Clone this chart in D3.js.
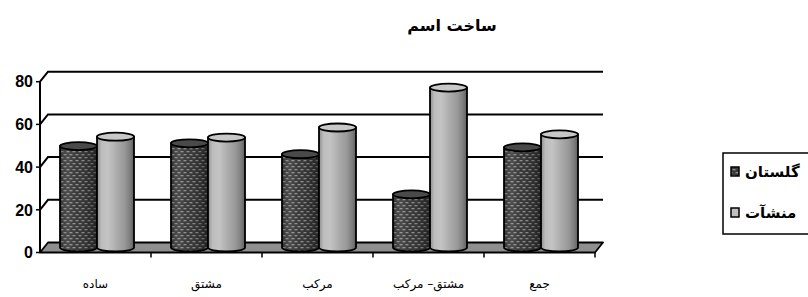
<!DOCTYPE html>
<html>
<head>
<meta charset="utf-8">
<script src="https://cdn.jsdelivr.net/npm/d3@7"></script>
<style>
  html, body { margin: 0; padding: 0; background: #fff; }
  svg { display: block; }
</style>
</head>
<body>
<svg id="chart" width="808" height="297"></svg>
<script>
const title = "ساخت اسم";
const categories = ["ساده", "مشتق", "مرکب", "مشتق– مرکب", "جمع"];
const seriesNames = ["گلستان", "منشآت"];
const golestan = [47.5, 48.8, 43.7, 24.9, 46.9];
const monshaat = [51.9, 51.5, 56.2, 74.9, 53.0];
const yTicks = [0, 20, 40, 60, 80];

const svg = d3.select("#chart");
const defs = svg.append("defs");

// depth offset for pseudo-3D
const DX = 8, DY = -10;
const x = d3.scaleBand().domain(categories).range([40, 595]).padding(0);
const y = d3.scaleLinear().domain([0, 80]).range([252.5, 81.7]);
const x1 = d3.scaleBand().domain(seriesNames).range([20, 94]).padding(0);

// patterns & gradients
const pat = defs.append("pattern").attr("id", "brick").attr("patternUnits", "userSpaceOnUse")
  .attr("width", 6).attr("height", 6);
pat.append("rect").attr("width", 6).attr("height", 6).attr("fill", "#3a3a3a");
pat.append("rect").attr("x", 0.5).attr("y", 1).attr("width", 3).attr("height", 1.3).attr("fill", "#909090");
pat.append("rect").attr("x", 3.5).attr("y", 4).attr("width", 3).attr("height", 1.3).attr("fill", "#909090");
pat.append("rect").attr("x", -2.5).attr("y", 4).attr("width", 3).attr("height", 1.3).attr("fill", "#909090");

const shade = defs.append("linearGradient").attr("id", "shadeDark").attr("x1", 0).attr("x2", 1).attr("y1", 0).attr("y2", 0);
[[0, "#000", 0.25], [0.25, "#fff", 0.08], [0.55, "#000", 0.0], [0.85, "#000", 0.25], [1, "#000", 0.45]]
  .forEach(([o, c, a]) => shade.append("stop").attr("offset", o).attr("stop-color", c).attr("stop-opacity", a));

const gl = defs.append("linearGradient").attr("id", "gradLight").attr("x1", 0).attr("x2", 1).attr("y1", 0).attr("y2", 0);
[[0, "#8e8e8e"], [0.12, "#bdbdbd"], [0.3, "#c4c4c4"], [0.55, "#aaaaaa"], [0.75, "#989898"], [0.9, "#7c7c7c"], [1, "#5e5e5e"]]
  .forEach(([o, c]) => gl.append("stop").attr("offset", o).attr("stop-color", c));

// floor
const floorG = svg.append("g");
floorG.append("path")
  .attr("d", `M${x.range()[0]},${y(0)} L${x.range()[1]},${y(0)} L${x.range()[1] + DX},${y(0) + DY} L${x.range()[0] + DX},${y(0) + DY} Z`)
  .attr("fill", "#8f8f8f").attr("stroke", "#000").attr("stroke-width", 1.8).attr("stroke-linejoin", "round");

// gridlines on back wall
const grid = svg.append("g");
yTicks.filter(t => t > 0).forEach(t => {
  grid.append("path")
    .attr("d", `M${x.range()[0]},${y(t)} L${x.range()[0] + DX},${y(t) + DY} L${x.range()[1] + DX},${y(t) + DY}`)
    .attr("fill", "none").attr("stroke", "#000").attr("stroke-width", 2);
});

// y axis
const axisG = svg.append("g");
axisG.append("line").attr("x1", 40).attr("x2", 40).attr("y1", y(80)).attr("y2", y(0))
  .attr("stroke", "#000").attr("stroke-width", 2);
yTicks.forEach(t => {
  axisG.append("line").attr("x1", 36).attr("x2", 40).attr("y1", y(t)).attr("y2", y(t))
    .attr("stroke", "#000").attr("stroke-width", 1.5);
  axisG.append("text").attr("x", 33).attr("y", y(t)).attr("dy", "0.36em")
    .attr("text-anchor", "end").attr("font-family", "Liberation Sans, Arial, sans-serif")
    .attr("font-weight", "bold").attr("font-size", 16).text(t);
});
// x ticks
const xEdges = categories.map(c => x(c)).concat([x.range()[1]]);
xEdges.slice(1).forEach(xe => {
  axisG.append("line").attr("x1", xe).attr("x2", xe).attr("y1", y(0)).attr("y2", y(0) + 5)
    .attr("stroke", "#000").attr("stroke-width", 1.5);
});

// cylinders
const RY = 4;
function cylinder(g, left, w, v, bodyFill, overlay, topFill) {
  const cx = left + w / 2, rx = w / 2;
  const yt = y(v) + DY / 2, yb = y(0) + DY / 2;
  const body = `M${left},${yt} L${left},${yb} A${rx},${RY} 0 0 0 ${left + w},${yb} L${left + w},${yt} Z`;
  g.append("path").attr("d", body).attr("fill", bodyFill);
  if (overlay) g.append("path").attr("d", body).attr("fill", overlay);
  g.append("path").attr("d", body).attr("fill", "none").attr("stroke", "#000").attr("stroke-width", 1.8);
  g.append("ellipse").attr("cx", cx).attr("cy", yt).attr("rx", rx).attr("ry", RY)
    .attr("fill", topFill).attr("stroke", "#000").attr("stroke-width", 1.8);
}

const bars = svg.append("g");
categories.forEach((c, i) => {
  cylinder(bars, x(c) + x1(seriesNames[0]), x1.bandwidth(), golestan[i], "url(#brick)", "url(#shadeDark)", "#4a4a4a");
  cylinder(bars, x(c) + x1(seriesNames[1]), x1.bandwidth(), monshaat[i], "url(#gradLight)", null, "#c8c8c8");
});

// category labels
svg.append("g").selectAll("text").data(categories).join("text")
  .attr("x", d => x(d) + x.bandwidth() / 2).attr("y", 288)
  .attr("text-anchor", "middle").attr("font-family", "DejaVu Sans, sans-serif")
  .attr("font-size", 12).attr("direction", "rtl").text(d => d);

// title
svg.append("text").attr("x", 452).attr("y", 31).attr("text-anchor", "middle")
  .attr("font-family", "DejaVu Sans, sans-serif").attr("font-weight", "bold").attr("font-size", 16)
  .attr("direction", "rtl").text(title);

// legend
const lg = svg.append("g");
lg.append("rect").attr("x", 723).attr("y", 153).attr("width", 100).attr("height", 81)
  .attr("fill", "#fff").attr("stroke", "#000").attr("stroke-width", 1.5);
const legFills = ["url(#brick)", "#c0c0c0"];
seriesNames.forEach((s, i) => {
  const yy = 172 + i * 41;
  lg.append("rect").attr("x", 731).attr("y", yy - 5).attr("width", 8).attr("height", 9)
    .attr("fill", legFills[i]).attr("stroke", "#000").attr("stroke-width", 1.5);
  lg.append("text").attr("x", 745).attr("y", yy).attr("dy", "0.35em")
    .attr("text-anchor", "start").attr("font-family", "DejaVu Sans, sans-serif")
    .attr("font-weight", "bold").attr("font-size", 15).text(s);
});
</script>
</body>
</html>
